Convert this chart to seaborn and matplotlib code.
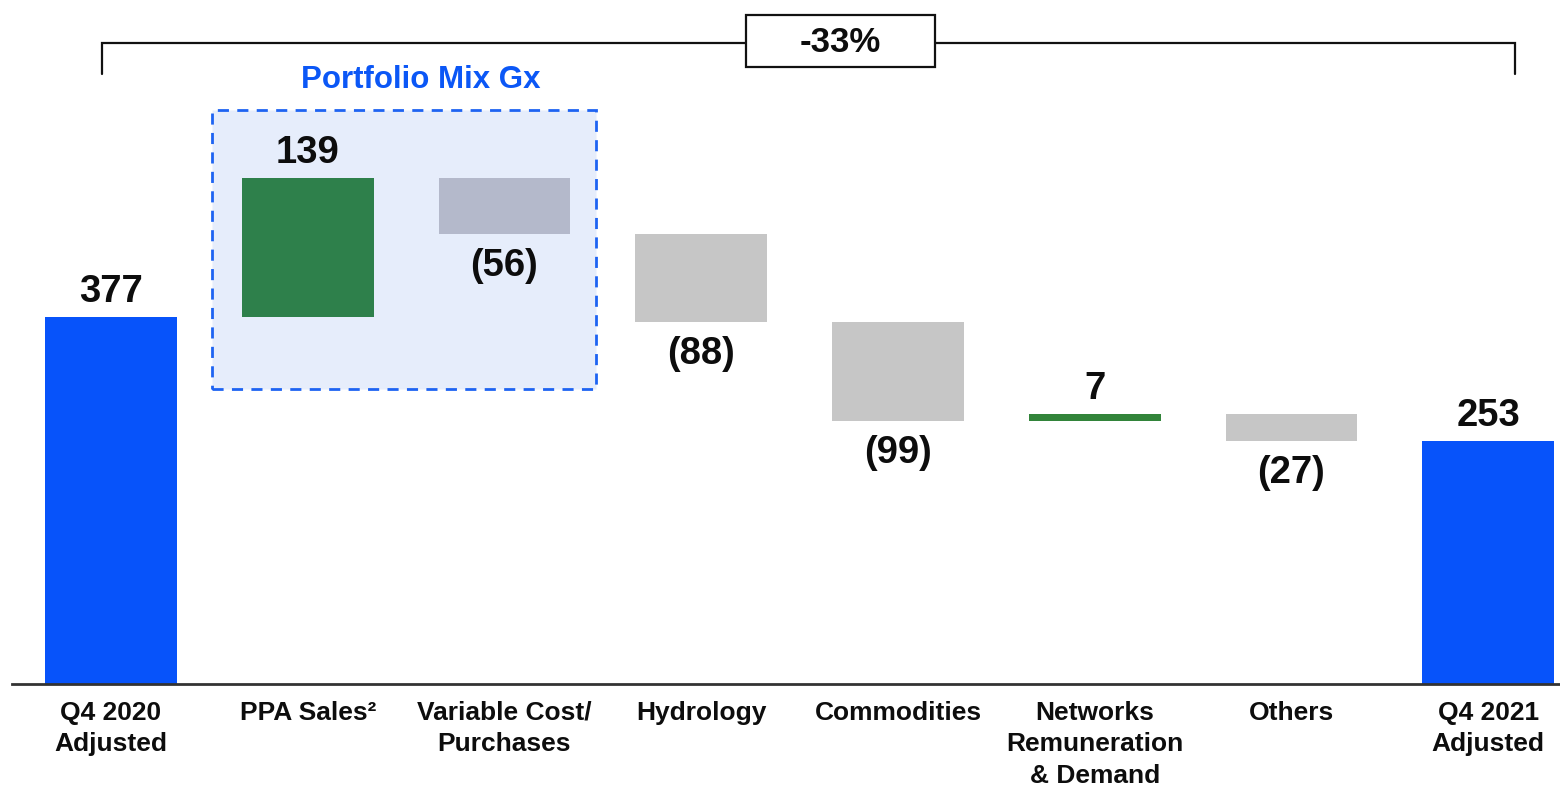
import matplotlib
matplotlib.use("Agg")
import matplotlib.pyplot as plt
from matplotlib.patches import Rectangle
import numpy as np
import pandas as pd
import seaborn as sns

# Adjusted EBITDA bridge, Q4 2020 -> Q4 2021
categories = ["Q4 2020\nAdjusted", "PPA Sales\u00b2", "Variable Cost/\nPurchases", "Hydrology",
              "Commodities", "Networks\nRemuneration\n& Demand", "Others", "Q4 2021\nAdjusted"]
start_total = 377
changes = [139, -56, -88, -99, 7, -27]
end_total = 253
bar_colors = ["#0753FA", "#2E804B", "#B4B9CB", "#C6C6C6", "#C6C6C6", "#32843A", "#C6C6C6", "#0753FA"]

# waterfall geometry from the running total
running = start_total + np.concatenate([[0], np.cumsum(changes)])
bottoms = [0]
heights = [start_total]
for i, d in enumerate(changes):
    lo = min(running[i], running[i + 1])
    bottoms.append(lo)
    heights.append(abs(d))
bottoms.append(0)
heights.append(end_total)
values = [start_total] + changes + [end_total]
df = pd.DataFrame({"category": categories, "height": heights, "bottom": bottoms, "value": values})

sns.set_theme(style="white")
plt.rcParams["font.family"] = ["Liberation Sans", "DejaVu Sans"]
plt.rcParams["font.weight"] = "bold"

fig = plt.figure(figsize=(15.6, 7.85), dpi=100)
ax = fig.add_axes([12 / 1560, 101 / 785, 1548 / 1560, 684 / 785])

sns.barplot(data=df, x="category", y="height", bottom=df["bottom"].to_numpy(), width=0.67,
            color=bar_colors[0], saturation=1, ax=ax, zorder=3, errorbar=None)
for patch, c in zip(ax.patches, bar_colors):
    patch.set_facecolor(c)
    patch.set_edgecolor("none")

ax.set_xlim(-0.503, 7.365)
ax.set_ylim(10, 694)

# value labels: gains above the bar, losses below
ink = "#0D0D0D"
for i, row in df.iterrows():
    top = row["bottom"] + row["height"]
    v = row["value"]
    if v >= 0:
        ax.text(i, top + 7, f"{v}", ha="center", va="bottom", fontsize=27.5,
                fontweight="bold", color=ink, zorder=5)
    else:
        ax.text(i, row["bottom"] - 14, f"({-v})", ha="center", va="top", fontsize=27.5,
                fontweight="bold", color=ink, zorder=5)

# shaded "Portfolio Mix Gx" group
ax.add_patch(Rectangle((0.513, 305), 2.467 - 0.513, 584 - 305, facecolor="#E6EDFB",
                       edgecolor="#1E63F2", linestyle=(0, (4, 3)), linewidth=2, zorder=1))
ax.text(1.574, 614, "Portfolio Mix Gx", ha="center", va="center", fontsize=22.5,
        fontweight="bold", color="#0B57F6", zorder=5)

# overall change bracket
ax.plot([-0.046, -0.046, 7.137, 7.137], [620, 651, 651, 620], color="#111111",
        linewidth=1.6, clip_on=False, zorder=4, solid_joinstyle="miter")
ax.add_patch(Rectangle((3.228, 627), 4.188 - 3.228, 679 - 627, facecolor="white",
                       edgecolor="#111111", linewidth=1.6, zorder=5, clip_on=False))
pct = round((end_total - start_total) / start_total * 100)
ax.text((3.228 + 4.188) / 2, 651, f"{pct}%", ha="center", va="center", fontsize=25,
        fontweight="bold", color=ink, zorder=6)

# axes styling
sns.despine(ax=ax, left=True, top=True, right=True)
ax.spines["bottom"].set_color("#333333")
ax.spines["bottom"].set_linewidth(2)
ax.spines["bottom"].set_zorder(6)
ax.set_yticks([])
ax.set_xlabel("")
ax.set_ylabel("")
ax.tick_params(axis="x", length=0, pad=12)
for lbl in ax.get_xticklabels():
    lbl.set_fontsize(19)
    lbl.set_fontweight("bold")
    lbl.set_color(ink)
    lbl.set_linespacing(1.4)

fig.savefig("out.png", dpi=100)
